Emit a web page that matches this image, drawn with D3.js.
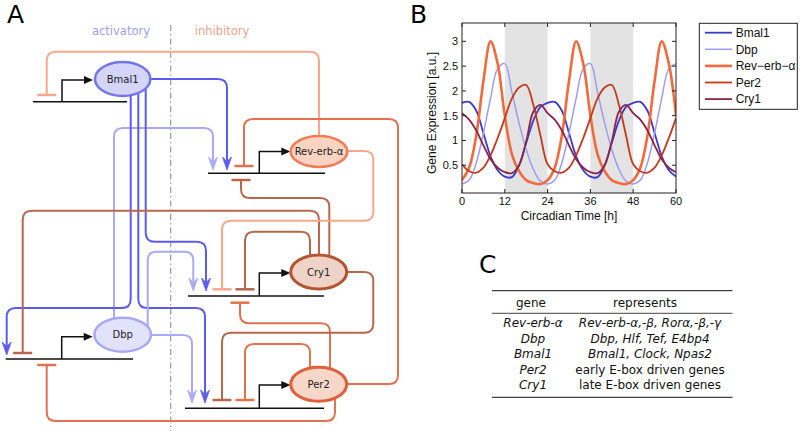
<!DOCTYPE html>
<html><head><meta charset="utf-8">
<script src="https://cdn.jsdelivr.net/npm/d3@7"></script>
<style>body{margin:0;background:#fff}svg{display:block}</style>
</head><body>
<script>
// ---------------- DATA ----------------
const hours = [0,2,4,6,8,10,12,14,16,18,20,22,24,26,28,30,32,34,36,38,40,42,44,46,48,50,52,54,56,58,60];
const bmal1 = [1.76,1.78,1.6,1.15,0.68,0.4,0.27,0.26,0.5,0.95,1.4,1.68, 1.76,1.78,1.6,1.15,0.68,0.4,0.27,0.26,0.5,0.95,1.4,1.68, 1.76,1.78,1.6,1.15,0.68,0.4,0.27];
const dbp   = [0.12,0.2,0.55,1.15,1.85,2.45,2.55,1.97,1.35,0.82,0.42,0.18, 0.12,0.2,0.55,1.15,1.85,2.45,2.55,1.97,1.35,0.82,0.42,0.18, 0.12,0.2,0.55,1.15,1.85,2.45,2.55];
const revErb= [0.2,0.45,1.1,2.2,3.0,2.55,1.5,0.72,0.38,0.2,0.14,0.12, 0.2,0.45,1.1,2.2,3.0,2.55,1.5,0.72,0.38,0.2,0.14,0.12, 0.2,0.45,1.1,2.2,3.0,2.55,1.5];
const per2  = [0.52,0.38,0.35,0.45,0.7,1.05,1.45,1.85,2.07,2.12,1.72,1.1, 0.52,0.38,0.35,0.45,0.7,1.05,1.45,1.85,2.07,2.12,1.72,1.1, 0.52,0.38,0.35,0.45,0.7,1.05,1.45];
const cry1  = [1.55,1.42,1.2,0.9,0.62,0.45,0.36,0.34,0.5,0.98,1.58,1.72, 1.55,1.42,1.2,0.9,0.62,0.45,0.36,0.34,0.5,0.98,1.58,1.72, 1.55,1.42,1.2,0.9,0.62,0.45,0.36];
const seriesNames = ["Bmal1","Dbp","Rev\u2212erb\u2212\u03b1","Per2","Cry1"];
const seriesValues = [bmal1, dbp, revErb, per2, cry1];
const seriesColors = ["#3a3acb","#9d9df2","#f26a3c","#c63a1c","#8a2646"];
const seriesWidths = [1.8,1.5,2.6,1.8,1.8];
const xTicks = [0,12,24,36,48,60];
const yTicks = [0.5,1,1.5,2,2.5,3];
const nightBands = [[12,24],[36,48]];

const tableHeader = ["gene","represents"];
const tableGenes = ["Rev-erb-\u03b1","Dbp","Bmal1","Per2","Cry1"];
const tableRepresents = ["Rev-erb-\u03b1,-\u03b2, Ror\u03b1,-\u03b2,-\u03b3","Dbp, Hlf, Tef, E4bp4","Bmal1, Clock, Npas2","early E-box driven genes","late E-box driven genes"];
const representsItalic = [true,true,true,false,false];

// ---------------- SVG ----------------
const W = 800, H = 431;
const svg = d3.select("body").append("svg").attr("width", W).attr("height", H);
const dv = "'DejaVu Sans', sans-serif";
const hv = "'Liberation Sans', Arial, sans-serif";

// ======== Panel A: network ========
const A = svg.append("g");
const col = {B:"#5b5bef", D:"#a9a9f5", R:"#f5a98a", P:"#e2714f", C:"#b8674c"};

function rounded(pts, r=9){
  let d = `M${pts[0][0]},${pts[0][1]}`;
  for(let i=1;i<pts.length-1;i++){
    const [px,py]=pts[i-1],[cx,cy]=pts[i],[nx,ny]=pts[i+1];
    const l1=Math.hypot(cx-px,cy-py), l2=Math.hypot(nx-cx,ny-cy);
    const rr=Math.min(r,l1/2,l2/2);
    const ax=cx-(cx-px)/l1*rr, ay=cy-(cy-py)/l1*rr;
    const bx=cx+(nx-cx)/l2*rr, by=cy+(ny-cy)/l2*rr;
    d+=`L${ax},${ay}Q${cx},${cy} ${bx},${by}`;
  }
  const L=pts[pts.length-1]; d+=`L${L[0]},${L[1]}`;
  return d;
}

// dash-dot divider
A.append("line").attr("x1",170.7).attr("x2",170.7).attr("y1",25).attr("y2",431)
 .attr("stroke","#9a9a9a").attr("stroke-width",1.2).attr("stroke-dasharray","6,3,1.5,3");
A.append("text").attr("x",121).attr("y",35).attr("text-anchor","middle").attr("font-family",dv)
 .attr("font-size",11.5).attr("fill","#9d9de8").text("activatory");
A.append("text").attr("x",222).attr("y",35).attr("text-anchor","middle").attr("font-family",dv)
 .attr("font-size",11.5).attr("fill","#eaa48a").text("inhibitory");

const links = [
 {c:col.R, t:"t", p:[[319,140],[319,51.7],[46.7,51.7],[46.7,95]]},
 {c:col.B, t:"a", p:[[140,79],[227,79],[227,170]]},
 {c:col.D, t:"a", p:[[114,330],[114,128],[213,128],[213,170]]},
 {c:col.B, t:"a", p:[[130.7,85],[130.7,308],[6.7,308],[6.7,355]]},
 {c:col.B, t:"a", p:[[145.7,85],[145.7,241.7],[206,241.7],[206,291]]},
 {c:col.B, t:"a", p:[[138.3,85],[138.3,308],[205,308],[205,403]]},
 {c:col.D, t:"a", p:[[147.7,334],[147.7,251.7],[193.3,251.7],[193.3,291]]},
 {c:col.D, t:"a", p:[[130,335],[192,335],[192,403]]},
 {c:col.P, t:"t", p:[[330,384],[398,384],[398,119],[244,119],[244,166]]},
 {c:col.C, t:"t", p:[[329.3,272],[329.3,198],[241,198],[241,180]]},
 {c:col.C, t:"t", p:[[319,272],[319,210.7],[22.7,210.7],[22.7,353]]},
 {c:col.R, t:"t", p:[[330,151],[373.3,151],[373.3,220.7],[222,220.7],[222,289.3]]},
 {c:col.C, t:"t", p:[[310,272],[310,231.7],[245,231.7],[245,289.3]]},
 {c:col.P, t:"t", p:[[330,384],[330,323.3],[240,323.3],[240,302.7]]},
 {c:col.C, t:"t", p:[[330,272],[373.3,272],[373.3,332.7],[222,332.7],[222,400]]},
 {c:col.P, t:"t", p:[[310,384],[310,344],[245,344],[245,400]]},
 {c:col.P, t:"t", p:[[335,390],[335,421],[46.7,421],[46.7,365]]}
];
links.forEach(l=>{
  const pts = l.p.slice();
  const L = pts[pts.length-1], P = pts[pts.length-2];
  const dir = Math.sign(L[1]-P[1]);
  let drawPts = pts;
  if(l.t==="a"){ drawPts = pts.slice(0,-1).concat([[L[0],L[1]-dir*9]]); }
  A.append("path").attr("d",rounded(drawPts)).attr("fill","none").attr("stroke",l.c).attr("stroke-width",2);
  if(l.t==="a"){
    const x=L[0], y=L[1];
    A.append("path").attr("d",`M${x},${y}L${x-4.5},${y-dir*13}L${x},${y-dir*8.5}L${x+4.5},${y-dir*13}Z`)
     .attr("fill",l.c).attr("stroke",l.c).attr("stroke-width",0.8).attr("stroke-linejoin","round");
  } else {
    A.append("line").attr("x1",L[0]-9.5).attr("x2",L[0]+9.5).attr("y1",L[1]).attr("y2",L[1])
     .attr("stroke",l.c).attr("stroke-width",2.5);
  }
});

const promoters = [
 {y:101.7, x1:33, x2:127, ax:62, ay:80},
 {y:173.3, x1:208, x2:325, ax:259.3, ay:151.5},
 {y:296, x1:188, x2:324, ax:259.3, ay:273},
 {y:408.3, x1:185, x2:324, ax:259.3, ay:385},
 {y:359, x1:5.7, x2:133, ax:61.7, ay:336.7}
];
promoters.forEach(p=>{
  A.append("line").attr("x1",p.x1).attr("x2",p.x2).attr("y1",p.y).attr("y2",p.y).attr("stroke","#111").attr("stroke-width",1.6);
  A.append("path").attr("d",`M${p.ax},${p.y}L${p.ax},${p.ay}L${p.ax+23},${p.ay}`).attr("fill","none").attr("stroke","#111").attr("stroke-width",1.5);
  A.append("path").attr("d",`M${p.ax+31},${p.ay}L${p.ax+22},${p.ay-4}L${p.ax+22},${p.ay+4}Z`).attr("fill","#111");
});

const nodes = [
 {n:"Bmal1", x:122.7, y:79, rx:27.7, ry:17, f:"#d5d5fa", s:"#7474ee", w:2.5},
 {n:"Rev-erb-\u03b1", x:319, y:151.5, rx:28.3, ry:15.5, f:"#fad3c3", s:"#f27c55", w:2.5},
 {n:"Cry1", x:318.7, y:272, rx:28, ry:17, f:"#efd2c8", s:"#b4532f", w:3},
 {n:"Per2", x:318.7, y:384.3, rx:28, ry:17, f:"#f8d6c8", s:"#e0603c", w:3},
 {n:"Dbp", x:122.7, y:334.7, rx:28.3, ry:17, f:"#e2e2fb", s:"#a8a8f3", w:2.5}
];
nodes.forEach(d=>{
  A.append("ellipse").attr("cx",d.x).attr("cy",d.y).attr("rx",d.rx).attr("ry",d.ry)
   .attr("fill",d.f).attr("stroke",d.s).attr("stroke-width",d.w);
  A.append("text").attr("x",d.x).attr("y",d.y+3.6).attr("text-anchor","middle").attr("font-family",dv)
   .attr("font-size",10).attr("fill","#222").text(d.n);
});

[["A",7,23],["B",410,23]].forEach(([t,x,y])=>{
  svg.append("text").attr("x",x).attr("y",y).attr("font-family",dv).attr("font-size",25).attr("fill","#000").text(t);
});

// ======== Panel B: chart ========
const x = d3.scaleLinear().domain([0,60]).range([462,676]);
const y = d3.scaleLinear().domain([-0.06,3.37]).range([193,23]);
const B = svg.append("g");
B.append("clipPath").attr("id","clip").append("rect").attr("x",462).attr("y",23).attr("width",214).attr("height",170);
nightBands.forEach(([a,b])=>{
  B.append("rect").attr("x",x(a)).attr("y",23).attr("width",x(b)-x(a)).attr("height",170).attr("fill","#e3e3e3");
});
const line = d3.line().x(d=>x(d[0])).y(d=>y(d[1])).curve(d3.curveCatmullRom.alpha(0.5));
const gLines = B.append("g").attr("clip-path","url(#clip)");
seriesValues.forEach((vals,i)=>{
  gLines.append("path").datum(hours.map((h,j)=>[h,vals[j]])).attr("d",line)
   .attr("fill","none").attr("stroke",seriesColors[i]).attr("stroke-width",seriesWidths[i]);
});
B.append("rect").attr("x",462).attr("y",23).attr("width",214).attr("height",170).attr("fill","none").attr("stroke","#222").attr("stroke-width",1);
xTicks.forEach(t=>{
  B.append("line").attr("x1",x(t)).attr("x2",x(t)).attr("y1",193).attr("y2",189).attr("stroke","#222");
  B.append("line").attr("x1",x(t)).attr("x2",x(t)).attr("y1",23).attr("y2",27).attr("stroke","#222");
  B.append("text").attr("x",x(t)).attr("y",205).attr("text-anchor","middle").attr("font-family",hv).attr("font-size",11).attr("fill","#111").text(t);
});
yTicks.forEach(t=>{
  B.append("line").attr("x1",462).attr("x2",466).attr("y1",y(t)).attr("y2",y(t)).attr("stroke","#222");
  B.append("line").attr("x1",676).attr("x2",672).attr("y1",y(t)).attr("y2",y(t)).attr("stroke","#222");
  B.append("text").attr("x",458).attr("y",y(t)+4).attr("text-anchor","end").attr("font-family",hv).attr("font-size",11).attr("fill","#111").text(t);
});
B.append("text").attr("x",569).attr("y",220).attr("text-anchor","middle").attr("font-family",hv).attr("font-size",12).attr("fill","#111").text("Circadian Time [h]");
B.append("text").attr("transform","translate(436,113) rotate(-90)").attr("text-anchor","middle").attr("font-family",hv).attr("font-size",12).attr("fill","#111").text("Gene Expression [a.u.]");
B.append("rect").attr("x",699.3).attr("y",23.3).attr("width",98).attr("height",86).attr("fill","#fff").attr("stroke","#222").attr("stroke-width",1);
seriesNames.forEach((n,i)=>{
  const ly = 32.7 + i*16.6;
  B.append("line").attr("x1",705).attr("x2",732).attr("y1",ly).attr("y2",ly).attr("stroke",seriesColors[i]).attr("stroke-width",seriesWidths[i]);
  B.append("text").attr("x",735.7).attr("y",ly+4.2).attr("font-family",hv).attr("font-size",12).attr("fill","#111").text(n);
});

// ======== Panel C: table ========
const C = svg.append("g");
svg.append("text").attr("x",479).attr("y",273).attr("font-family",dv).attr("font-size",25).attr("fill","#000").text("C");
C.append("line").attr("x1",492).attr("x2",732.5).attr("y1",290.7).attr("y2",290.7).attr("stroke","#111").attr("stroke-width",1);
C.append("line").attr("x1",492).attr("x2",732.5).attr("y1",313.3).attr("y2",313.3).attr("stroke","#111").attr("stroke-width",0.8);
C.append("line").attr("x1",492).attr("x2",732.5).attr("y1",397.3).attr("y2",397.3).attr("stroke","#111").attr("stroke-width",1);
C.append("text").attr("x",531).attr("y",306.5).attr("text-anchor","middle").attr("font-family",dv).attr("font-size",12).attr("fill","#111").text(tableHeader[0]);
C.append("text").attr("x",645).attr("y",306.5).attr("text-anchor","middle").attr("font-family",dv).attr("font-size",12).attr("fill","#111").text(tableHeader[1]);
tableGenes.forEach((g,i)=>{
  const ty = 327.4 + i*15.45;
  C.append("text").attr("x",533).attr("y",ty).attr("text-anchor","middle").attr("font-family",dv).attr("font-style","italic").attr("font-size",12).attr("fill","#111").text(g);
  C.append("text").attr("x",650).attr("y",ty).attr("text-anchor","middle").attr("font-family",dv).attr("font-style",representsItalic[i]?"italic":"normal").attr("font-size",12).attr("fill","#111").text(tableRepresents[i]);
});
</script>
</body></html>
